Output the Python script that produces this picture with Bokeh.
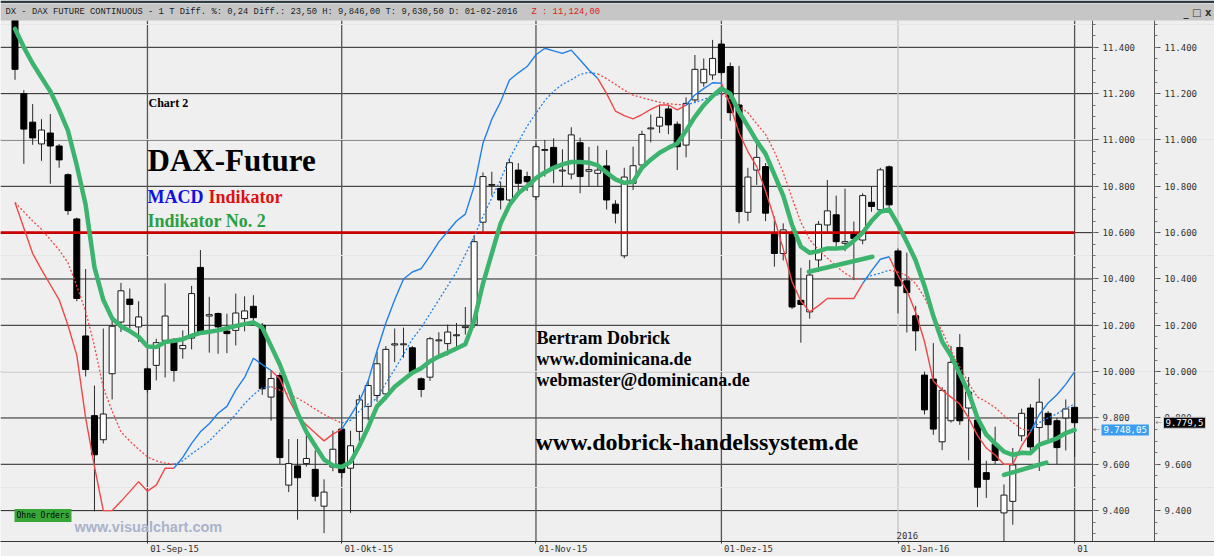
from bokeh.plotting import figure
from bokeh.models import Range1d, LinearAxis, FixedTicker, Label, BoxAnnotation
from bokeh.embed import file_html
from bokeh.resources import INLINE

# ---------------- data ----------------
opens = [11540, 11200, 11077, 10983, 11030, 10974, 10850, 10659, 10154, 9810,
         9706, 9991, 10214, 10313, 10193, 10012, 10027, 10135, 10139, 10099,
         10145, 10450, 10240, 10251, 10175, 10178, 10229, 10282, 10200, 9890,
         9983, 9510, 9593, 9603, 9578, 9419, 9588, 9752, 9583, 9742,
         9850, 9897, 9904, 10115, 10116, 10103, 9969, 9976, 10133, 10121,
         10155, 10190, 10203, 10645, 10804, 10791, 10741, 10870, 10842, 10755,
         10955, 10968, 10866, 10853, 10988, 10865, 10856, 10888, 10723, 10500,
         10813, 10892, 11048, 11060, 11134, 11068, 10978, 11173, 11247, 11281,
         11414, 11317, 11151, 10688, 10870, 10885, 10593, 10510, 10593, 10308,
         10258, 10482, 10633, 10677, 10554, 10593, 10568, 10731, 10699, 10884,
         10521, 10392, 10241, 9985, 9968, 9697, 9788, 10104, 9843, 9791,
         9564, 9687, 9390, 9440, 9723, 9843, 9759, 9820, 9788, 9800,
         9846]
highs = [11560, 11215, 11155, 11090, 11112, 10983, 10856, 10665, 10443, 9940,
         10186, 10230, 10383, 10359, 10304, 10020, 10142, 10381, 10145, 10178,
         10370, 10525, 10323, 10255, 10250, 10337, 10325, 10330, 10210, 10006,
         9995, 9709, 9709, 9745, 9660, 9535, 9745, 9760, 9745, 9900,
         9960, 10085, 10110, 10186, 10190, 10110, 9975, 10150, 10170, 10203,
         10210, 10279, 10587, 10860, 10863, 10820, 10921, 10900, 10863, 10985,
         11000, 11007, 10960, 11055, 11010, 10970, 10975, 10957, 10740, 10880,
         10971, 11040, 11110, 11150, 11150, 11080, 11184, 11367, 11352, 11432,
         11432, 11334, 11320, 10880, 10983, 10900, 10669, 10640, 10610, 10448,
         10482, 10650, 10827, 10760, 10790, 10648, 10770, 10800, 10880, 10890,
         10532, 10514, 10284, 10000, 10123, 9933, 10111, 10162, 9977, 9825,
         9615, 9762, 9513, 9670, 9840, 9860, 9970, 9830, 9800, 9880,
         9846]
lows = [11260, 10897, 10979, 10910, 10811, 10880, 10677, 10304, 9979, 9397,
        9690, 9880, 10171, 10186, 10128, 9910, 9962, 9975, 9957, 10056,
        10096, 10165, 10082, 10077, 10080, 10113, 10174, 10215, 9900, 9788,
        9600, 9480, 9361, 9590, 9440, 9303, 9570, 9540, 9390, 9700,
        9790, 9870, 9880, 10041, 10060, 9990, 9890, 9960, 10070, 10070,
        10100, 10160, 10190, 10604, 10760, 10700, 10720, 10760, 10780, 10740,
        10842, 10813, 10800, 10830, 10770, 10800, 10800, 10700, 10640, 10489,
        10784, 10870, 10990, 11030, 11025, 10870, 10925, 11160, 11230, 11260,
        11280, 11083, 10640, 10650, 10806, 10650, 10453, 10480, 10270, 10125,
        10229, 10430, 10600, 10540, 10520, 10395, 10550, 10690, 10690, 10700,
        10251, 10169, 10090, 9815, 9727, 9661, 9780, 9770, 9617, 9415,
        9455, 9600, 9267, 9339, 9700, 9650, 9571, 9700, 9600, 9660,
        9630.5]
closes = [11305, 11047, 11009, 11043, 10974, 10914, 10695, 10316, 10009, 9641,
          9817, 10196, 10349, 10290, 10236, 9923, 10125, 10240, 10005, 10113,
          10337, 10171, 10246, 10193, 10164, 10253, 10262, 10233, 9926, 9970,
          9629, 9603, 9542, 9625, 9462, 9480, 9665, 9564, 9680, 9878,
          9940, 10034, 10096, 10120, 10120, 9998, 9923, 10142, 10137, 10171,
          10159, 10196, 10561, 10842, 10808, 10741, 10902, 10813, 10820, 10971,
          10959, 10878, 10870, 11022, 10842, 10872, 10870, 10741, 10684, 10840,
          10889, 11024, 11052, 11098, 11065, 10971, 11158, 11305, 11305, 11352,
          11291, 11118, 10691, 10840, 10925, 10684, 10510, 10612, 10279, 10290,
          10417, 10636, 10694, 10561, 10561, 10575, 10760, 10713, 10871, 10720,
          10370, 10341, 10176, 9835, 9752, 9919, 10040, 9788, 9912, 9501,
          9535, 9617, 9467, 9597, 9820, 9675, 9868, 9771, 9672, 9839,
          9779.5]

# "Indikator No. 2" (thick green line)
green = [11480, 11400, 11330, 11270, 11210, 11130, 11040, 10890, 10720, 10450,
         10310, 10230, 10195, 10175, 10150, 10108, 10106, 10128, 10133, 10140,
         10155, 10167, 10172, 10178, 10188, 10197, 10205, 10212, 10190, 10110,
         10030, 9930, 9820, 9740, 9680, 9620, 9595, 9588, 9610, 9680,
         9760, 9850, 9890, 9935, 9965, 9995, 10015, 10045, 10065, 10082,
         10100, 10118, 10220, 10380, 10510, 10640, 10720, 10770, 10800, 10835,
         10860, 10880, 10895, 10905, 10905, 10902, 10890, 10860, 10830, 10815,
         10820, 10880, 10915, 10945, 10966, 10985, 11040, 11100, 11150, 11190,
         11222, 11200, 11122, 11060, 10995, 10940, 10850, 10760, 10633, 10540,
         10513, 10520, 10532, 10532, 10535, 10565, 10600, 10650, 10690, 10700,
         10635, 10560, 10480, 10370, 10240, 10130, 10068, 9990, 9910, 9800,
         9728, 9690, 9655, 9640, 9650, 9648, 9685, 9698, 9712, 9735,
         9748.05]

# MACD indicator: fast (solid) and slow (dotted) lines
macd_fast = [10730, 10620, 10510, 10440, 10375, 10310, 10200, 10070, 9800, 9590,
             9400, 9400, 9440, 9482, 9525, 9484, 9510, 9583, 9583, 9630,
             9690, 9740, 9775, 9820, 9850, 9920, 9975, 10058, 10030, 10005,
             9969, 9880, 9810, 9770, 9735, 9701, 9730, 9752, 9810, 9872,
             9960, 10090, 10210, 10310, 10400, 10430, 10445, 10500, 10560, 10605,
             10650, 10680, 10800, 10986, 11090, 11165, 11259, 11290, 11317, 11368,
             11396, 11385, 11374, 11388, 11345, 11302, 11265, 11200, 11125, 11105,
             11091, 11110, 11132, 11151, 11151, 11130, 11150, 11195, 11222, 11247,
             11245, 11150, 11030, 10950, 10885, 10780, 10660, 10530, 10388, 10305,
             10258, 10285, 10316, 10316, 10316, 10316, 10380, 10435, 10485, 10496,
             10415, 10350, 10255, 10130, 9960, 9920, 9890, 9860, 9800, 9725,
             9670, 9640, 9600, 9600, 9680, 9740, 9815, 9865, 9900, 9945,
             10000]
macd_slow = [10730, 10690, 10650, 10615, 10570, 10525, 10470, 10370, 10260, 10110,
             9930, 9830, 9740, 9700, 9665, 9632, 9615, 9605, 9600, 9615,
             9645, 9672, 9700, 9740, 9775, 9815, 9862, 9900, 9930, 9935,
             9920, 9900, 9885, 9863, 9838, 9815, 9795, 9778, 9790, 9830,
             9860, 9885, 9950, 10010, 10075, 10140, 10190, 10250, 10310, 10370,
             10430, 10505, 10585, 10670, 10750, 10830, 10920, 10990, 11060, 11115,
             11170, 11210, 11240, 11260, 11283, 11292, 11285, 11265, 11240, 11215,
             11193, 11183, 11172, 11163, 11157, 11153, 11152, 11162, 11175, 11190,
             11198, 11178, 11145, 11118, 11070, 11025, 10950, 10860, 10750, 10645,
             10570, 10525, 10490, 10455, 10425, 10402, 10400, 10415, 10425, 10438,
             10430, 10415, 10380, 10320, 10240, 10175, 10090, 10020, 9950, 9890,
             9870, 9845, 9810, 9780, 9752, 9745, 9780, 9800, 9818, 9840,
             9861]
# bar index where the MACD colour changes, and the state of each stretch
macd_breaks = [0, 18, 29, 37, 66, 76, 80, 96, 99, 115, 120]
macd_states = ["down", "up", "down", "up", "down", "up", "down", "up", "down", "up"]

# hand-drawn green trend lines (bar index, price)
trend_x0 = [89.9, 112.0]
trend_y0 = [10431, 9554]
trend_x1 = [97.1, 116.8]
trend_y1 = [10496, 9607]

resistance = 10600
last_close = 9779.5
last_close_text = "9.779,5"
green_last_text = "9.748,05"

month_idx = [15, 37, 59, 80, 100, 120]
month_labels = ["01-Sep-15", "01-Okt-15", "01-Nov-15", "01-Dez-15", "01-Jan-16", "01"]
price_ticks = [9400, 9600, 9800, 10000, 10200, 10400, 10600, 10800, 11000, 11200, 11400]
price_labels = ["9.400", "9.600", "9.800", "10.000", "10.200", "10.400", "10.600",
                "10.800", "11.000", "11.200", "11.400"]
minor_ticks = list(range(9300, 11501, 50))

header_text = "DX - DAX FUTURE CONTINUOUS -  1 T Diff. %: 0,24 Diff.: 23,50 H: 9,846,00 T: 9,630,50 D: 01-02-2016"
header_z = "Z : 11,124,00"

# ---------------- layout helpers (pixel -> data) ----------------
BAR_PX = 8.83          # pixels per bar
BAR0_PX = 14.5         # pixel x of bar 0
W, H = 1214, 556
FRAME_B = 543          # frame bottom (x axis below)
PRICE_PX = 200 / 46.5  # price units per pixel
P47 = 11400            # price at pixel row 47


def dx(px):
    return (px - BAR0_PX) / BAR_PX


def dy(py):
    return P47 - (py - 47) * PRICE_PX


X_LEFT, X_RIGHT = dx(0), dx(W)
Y_TOP, Y_BOTTOM = dy(0), dy(FRAME_B)
PLOT_TOP = dy(20)      # price at top of the chart area (below header bar)
AXIS1_X, AXIS2_X = dx(1092), dx(1154)

GREEN = "#3db46d"
RED = "#f04848"
BLUE = "#2080e8"
BG = "#efefef"

p = figure(width=W, height=H, x_range=Range1d(X_LEFT, X_RIGHT),
           y_range=Range1d(Y_BOTTOM, Y_TOP), output_backend="svg",
           toolbar_location=None, y_axis_location=None,
           min_border_left=0, min_border_top=0, min_border_bottom=0, min_border_right=0,
           background_fill_color=BG, border_fill_color=BG, outline_line_color=None)

# x axis
xa = p.xaxis[0]
xa.ticker = FixedTicker(ticks=month_idx)
xa.major_label_overrides = {m: "\u00a0" * (len(l) + 1) + l for m, l in zip(month_idx, month_labels)}
xa.major_label_text_font = "DejaVu Sans Mono"
xa.major_label_text_font_size = "9px"
xa.major_label_text_color = "#333333"
xa.major_label_standoff = 0
xa.major_tick_in = 0
xa.major_tick_out = 2
xa.minor_tick_line_color = None
xa.axis_line_color = "#333333"
xa.major_tick_line_color = "#333333"
p.xgrid.grid_line_color = None


def price_axis(loc):
    ax = LinearAxis(fixed_location=loc, bounds=(Y_BOTTOM, PLOT_TOP))
    ax.ticker = FixedTicker(ticks=price_ticks, minor_ticks=minor_ticks)
    ax.major_label_overrides = {t: l for t, l in zip(price_ticks, price_labels)}
    ax.major_label_text_font = "DejaVu Sans Mono"
    ax.major_label_text_font_size = "9px"
    ax.major_label_text_color = "#333333"
    ax.major_tick_in = 0
    ax.major_tick_out = 6
    ax.minor_tick_in = 0
    ax.minor_tick_out = 3
    ax.major_label_standoff = 4
    ax.axis_line_color = "#555555"
    ax.major_tick_line_color = "#555555"
    ax.minor_tick_line_color = "#777777"
    p.add_layout(ax, "right")


price_axis(AXIS1_X)
price_axis(AXIS2_X)

# horizontal grid at the price ticks (chart area only)
p.segment(x0=[X_LEFT] * len(price_ticks), x1=[AXIS1_X] * len(price_ticks),
          y0=price_ticks, y1=price_ticks, line_color="#222222", line_width=1, level="underlay")
# vertical month lines
p.segment(x0=month_idx, x1=month_idx, y0=[Y_BOTTOM] * len(month_idx), y1=[PLOT_TOP] * len(month_idx),
          line_color=["#c4c4c4" if l.endswith("Jan-16") else "#555555" for l in month_labels],
          line_width=1.3, level="underlay")

# candles
idx = list(range(len(closes)))
up = [i for i in idx if closes[i] >= opens[i]]
dn = [i for i in idx if closes[i] < opens[i]]
p.segment(x0=idx, y0=lows, x1=idx, y1=highs, line_color="#2a2a2a", line_width=1)
p.vbar(x=up, width=0.68, bottom=[opens[i] for i in up], top=[closes[i] for i in up],
       fill_color="white", line_color="#1a1a1a", line_width=1)
p.vbar(x=dn, width=0.68, bottom=[closes[i] for i in dn], top=[opens[i] for i in dn],
       fill_color="black", line_color="black", line_width=1)

# resistance line
p.segment(x0=[X_LEFT], y0=[resistance], x1=[idx[-1]], y1=[resistance],
          line_color="#c80000", line_width=2.6)

# MACD lines
groups = {}
for k in range(len(macd_breaks) - 1):
    a, b = macd_breaks[k], macd_breaks[k + 1]
    g = groups.setdefault(macd_states[k], {"xs": [], "fast": [], "slow": []})
    g["xs"].append(idx[a:b + 1])
    g["fast"].append(macd_fast[a:b + 1])
    g["slow"].append(macd_slow[a:b + 1])
for state, g in groups.items():
    col = BLUE if state == "up" else RED
    p.multi_line(xs=g["xs"], ys=g["slow"], line_color=col, line_width=1.3, line_dash="2 2")
    p.multi_line(xs=g["xs"], ys=g["fast"], line_color=col, line_width=1.4)

# green indicator + trend lines
p.line(idx, green, line_color=GREEN, line_width=4.5, line_join="round", line_cap="round")
p.segment(x0=trend_x0, y0=trend_y0, x1=trend_x1, y1=trend_y1, line_color=GREEN,
          line_width=4.5, line_cap="round")

# ---------------- texts ----------------
SERIF = "Liberation Serif"


def txt(px, py, text, size, color="black", font=SERIF, style="bold", **kw):
    # py is the wanted baseline; svg text sits ~0.35em lower than asked
    s = float(size.replace("px", ""))
    p.add_layout(Label(x=dx(px), y=dy(py - 0.35 * s), text=text, text_font=font,
                       text_font_size=size, text_font_style=style, text_color=color,
                       text_baseline="alphabetic", **kw))


txt(148, 107, "Chart 2", "12px")
txt(147, 171, "DAX-Future", "31px")
txt(147, 204, "MACD", "18px", color="#1010e0")
txt(208, 204, "Indikator", "18px", color="#e01010")
txt(147, 228, "Indikator No. 2", "18px", color="#2aa040")
txt(536, 345, "Bertram Dobrick", "18px")
txt(536, 366, "www.dominicana.de", "18px")
txt(536, 387, "webmaster@dominicana.de", "18px")
txt(535, 452, "www.dobrick-handelssystem.de", "24px")
txt(74, 534, "www.visualchart.com", "14.5px", color="#a9b3cb", font="Liberation Sans")
txt(896, 540, "2016", "9px", color="#333333", font="DejaVu Sans Mono", style="normal")

p.add_layout(Label(x=dx(14), y=dy(517), text="Ohne Orders", text_font="DejaVu Sans Mono",
                   text_font_size="8px", text_color="black", text_baseline="middle",
                   background_fill_color="#36a636", padding=2))

# header bar
p.add_layout(BoxAnnotation(left=X_LEFT, right=X_RIGHT, bottom=dy(20), top=dy(3),
                           fill_color="#c6c6c6", fill_alpha=1, line_color=None))
p.add_layout(BoxAnnotation(left=X_LEFT, right=X_RIGHT, bottom=dy(2.5), top=Y_TOP,
                           fill_color="#2e3c44", fill_alpha=1, line_color=None))
txt(5, 15, header_text, "8.8px", color="#222222", font="Liberation Mono", style="normal")
txt(531, 15, header_z, "8.8px", color="#e02020", font="Liberation Mono", style="normal")
txt(1183, 16, "_ \u25a1 x", "10px", color="#333333", font="DejaVu Sans", style="bold")

# right axis value boxes
p.add_layout(Label(x=dx(1093), y=green[-1], text="\u2190", text_font="DejaVu Sans",
                   text_font_size="8px", text_color="#888888", text_baseline="middle"))
p.add_layout(Label(x=dx(1101), y=green[-1], text=green_last_text, text_font="DejaVu Sans Mono",
                   text_font_size="9px", text_color="white", text_baseline="middle",
                   background_fill_color="#3c9cf0", padding=2))
p.add_layout(Label(x=dx(1155), y=last_close, text="\u2190", text_font="DejaVu Sans",
                   text_font_size="8px", text_color="#888888", text_baseline="middle"))
p.add_layout(Label(x=dx(1163), y=last_close, text=last_close_text, text_font="DejaVu Sans Mono",
                   text_font_size="9px", text_color="white", text_baseline="middle",
                   background_fill_color="black", border_line_color="#cccccc", padding=2))

open("out.html", "w").write(file_html(p, INLINE))
